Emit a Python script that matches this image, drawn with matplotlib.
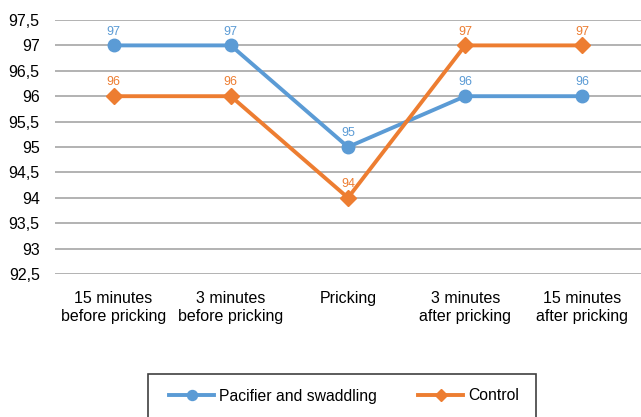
import matplotlib.pyplot as plt
from matplotlib.patches import Rectangle
from matplotlib.ticker import FuncFormatter

# data
categories = ["15 minutes\nbefore pricking", "3 minutes\nbefore pricking", "Pricking",
              "3 minutes\nafter pricking", "15 minutes\nafter pricking"]
pacifier = [97, 97, 95, 96, 96]
control = [96, 96, 94, 97, 97]

blue = "#5B9BD5"
orange = "#ED7D31"

plt.rcParams['font.family'] = ['Liberation Sans', 'DejaVu Sans']

fig = plt.figure(figsize=(6.41, 4.17), dpi=100)
ax = fig.add_axes([55 / 641, 1 - 274 / 417, 1 - 55 / 641, (274 - 20) / 417])

x = list(range(len(categories)))
ax.plot(x, pacifier, color=blue, lw=2.8, marker='o', ms=9, label="Pacifier and swaddling", zorder=3)
ax.plot(x, control, color=orange, lw=2.8, marker='D', ms=8, label="Control", zorder=3)

for xi, v in zip(x, pacifier):
    ax.annotate(str(v), (xi, v), xytext=(0, 10), textcoords='offset points',
                ha='center', va='center', color=blue, fontsize=9)
for xi, v in zip(x, control):
    ax.annotate(str(v), (xi, v), xytext=(0, 10), textcoords='offset points',
                ha='center', va='center', color=orange, fontsize=9)

ax.set_xlim(-0.5, 4.5)
ax.set_ylim(92.5, 97.5)
ax.set_yticks([92.5 + 0.5 * i for i in range(11)])
ax.yaxis.set_major_formatter(FuncFormatter(lambda v, p: ('%g' % v).replace('.', ',')))
ax.set_xticks(x)
ax.set_xticklabels(categories, fontsize=11.5, linespacing=1.25)
ax.tick_params(axis='y', labelsize=11.5, length=0, pad=11)
ax.tick_params(axis='x', length=0, pad=12)
ax.grid(axis='y', color='#a6a6a6', lw=1.2)
ax.set_axisbelow(True)
for s in ax.spines.values():
    s.set_visible(False)

# legend box (runs off the bottom like the reference)
fig.patches.append(Rectangle((148 / 641, -0.05), (536 - 148) / 641, 0.05 + 1 - 374 / 417,
                             transform=fig.transFigure, fill=False, edgecolor='#404040', lw=1.2))
fig.legend(loc='center left', bbox_to_anchor=(161 / 641, 1 - 396 / 417), ncol=2, frameon=False,
           fontsize=11.3, handlelength=2.9, columnspacing=2.6, handletextpad=0.3,
           borderpad=0, markerscale=0.8)

fig.savefig("out.png", dpi=100)
